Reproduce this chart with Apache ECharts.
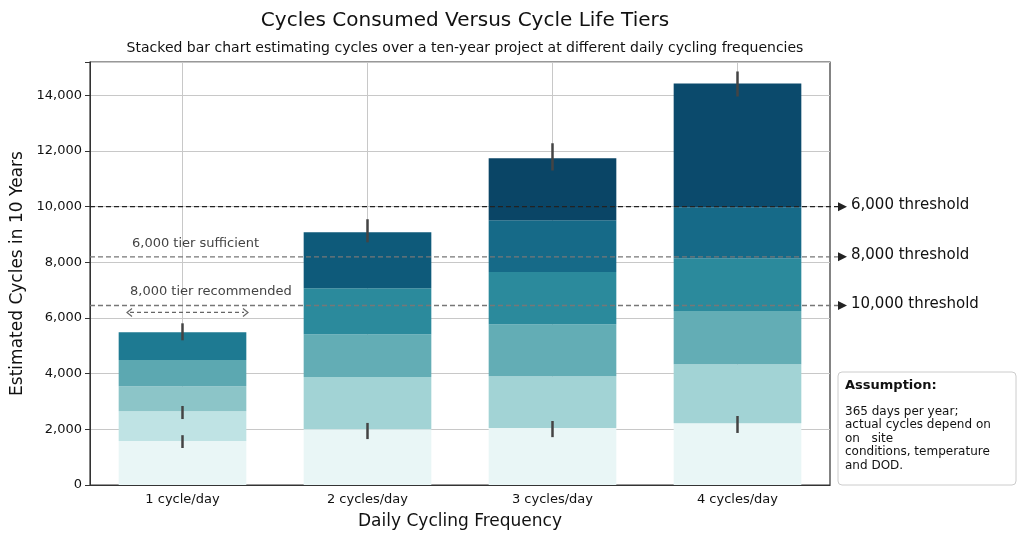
<!DOCTYPE html>
<html>
<head>
<meta charset="utf-8">
<script src="https://cdn.jsdelivr.net/npm/echarts@6/dist/echarts.min.js"></script>
<style>html,body{margin:0;padding:0;background:#fff}#chart{width:1024px;height:536px}</style>
</head>
<body>
<div id="chart"></div>
<script>
var categories = ['1 cycle/day', '2 cycles/day', '3 cycles/day', '4 cycles/day'];
// cumulative tops of each stacked segment, per category
var segTops = [
    [1580, 2650, 3550, 4490, 5490],
    [2000, 3880, 5420, 7070, 9080],
    [2050, 3910, 5780, 7650, 9510, 11740],
    [2220, 4340, 6250, 8150, 9980, 14430]
];
var segColors = [
    ['#e9f6f6', '#bfe3e4', '#8cc5c8', '#5ca8b1', '#1e7a92'],
    ['#e9f6f6', '#a2d3d5', '#63adb5', '#2b8a9c', '#0e5a7a'],
    ['#e9f6f6', '#a2d3d5', '#63adb5', '#2b8a9c', '#166a88', '#0a4566'],
    ['#e9f6f6', '#a2d3d5', '#63adb5', '#2b8a9c', '#166a88', '#0b4a6c']
];
var errCat = [0, 0, 0, 1, 1, 2, 2, 3, 3];
var errLow = [1330, 2370, 5200, 1650, 8720, 1720, 11300, 1870, 13960];
var errHigh = [1790, 2840, 5810, 2230, 9550, 2300, 12280, 2480, 14860];
var thresholdVals = [10000, 8200, 6450];
var thresholdLabels = ['6,000 threshold', '8,000 threshold', '10,000 threshold'];
var yTicks = [0, 2000, 4000, 6000, 8000, 10000, 12000, 14000];

var myChart = echarts.init(document.getElementById('chart'));
var font = 'DejaVu Sans';

var series = [];
for (var lvl = 0; lvl < 6; lvl++) {
    var data = [];
    for (var c = 0; c < categories.length; c++) {
        var tops = segTops[c];
        if (lvl < tops.length) {
            var v = tops[lvl] - (lvl > 0 ? tops[lvl - 1] : 0);
            data.push({value: v, itemStyle: {color: segColors[c][lvl]}});
        } else {
            data.push(0);
        }
    }
    var s = {
        type: 'bar', stack: 'total', barWidth: '69%', data: data,
        z: 3
    };
    if (lvl === 0) {
        s.markLine = {
            silent: true, symbol: 'none', z: 1,
            lineStyle: {color: '#c8c8c8', type: 'solid', width: 1},
            label: {show: false},
            data: categories.map(function (n) { return {xAxis: n}; })
        };
    }
    series.push(s);
}
series.push({
    type: 'custom', z: 10,
    data: errCat.map(function (c, i) { return [c, errLow[i], errHigh[i]]; }),
    renderItem: function (params, api) {
        var a = api.coord([api.value(0), api.value(1)]);
        var b = api.coord([api.value(0), api.value(2)]);
        return {type: 'line', shape: {x1: a[0], y1: a[1], x2: b[0], y2: b[1]},
            style: {stroke: '#444', lineWidth: 2.5}};
    }
});

var option = {
    animation: false,
    title: [{
        text: 'Cycles Consumed Versus Cycle Life Tiers', left: 460, top: 6, textAlign: 'center',
        textStyle: {fontFamily: font, fontSize: 20, fontWeight: 'normal', color: '#111'}
    }, {
        text: 'Stacked bar chart estimating cycles over a ten-year project at different daily cycling frequencies',
        left: 460, top: 36, textAlign: 'center',
        textStyle: {fontFamily: font, fontSize: 14, fontWeight: 'normal', color: '#111'}
    }],
    grid: {left: 90, right: 194, top: 62, bottom: 51, show: true, borderColor: '#333', borderWidth: 1.2},
    xAxis: {
        type: 'category', data: categories,
        name: 'Daily Cycling Frequency', nameLocation: 'middle', nameGap: 28,
        nameTextStyle: {fontFamily: font, fontSize: 17, color: '#111'},
        axisLabel: {fontFamily: font, fontSize: 13, color: '#111'},
        axisTick: {alignWithLabel: true, lineStyle: {color: '#333'}},
        axisLine: {lineStyle: {color: '#333'}},
        splitLine: {show: false}
    },
    yAxis: {
        type: 'value', min: 0, max: 15200, interval: 2000,
        name: 'Estimated Cycles in 10 Years', nameLocation: 'middle', nameGap: 64,
        nameTextStyle: {fontFamily: font, fontSize: 17, color: '#111'},
        axisLabel: {fontFamily: font, fontSize: 13, color: '#111',
            formatter: function (v) { return yTicks.indexOf(v) >= 0 ? v.toLocaleString('en-US') : ''; }},
        axisTick: {show: true, lineStyle: {color: '#333'}},
        axisLine: {show: true, lineStyle: {color: '#333'}},
        splitLine: {lineStyle: {color: '#c8c8c8'}}
    },
    series: series
};
myChart.setOption(option);

// threshold lines extended past the plot with arrows and labels
var g = [];
var x0 = myChart.convertToPixel({gridIndex: 0}, [0, 0]);
for (var i = 0; i < thresholdVals.length; i++) {
    var y = myChart.convertToPixel({yAxisIndex: 0}, thresholdVals[i]);
    var col = i === 0 ? '#222' : '#777';
    g.push({type: 'line', z: 20, shape: {x1: 90, y1: y, x2: 842, y2: y},
        style: {stroke: col, lineWidth: 1.3, lineDash: [5, 3]}});
    g.push({type: 'polygon', z: 20, shape: {points: [[838, y - 4.5], [847, y], [838, y + 4.5]]},
        style: {fill: '#222'}});
    g.push({type: 'text', z: 20, left: 851, top: y - 9,
        style: {text: thresholdLabels[i], font: '15px DejaVu Sans', fill: '#111'}});
}
var y6 = myChart.convertToPixel({yAxisIndex: 0}, 8200);
var y8 = myChart.convertToPixel({yAxisIndex: 0}, 6450);
g.push({type: 'text', z: 20, left: 132, top: y6 - 20,
    style: {text: '6,000 tier sufficient', font: '13px DejaVu Sans', fill: '#444'}});
g.push({type: 'text', z: 20, left: 130, top: y8 - 20,
    style: {text: '8,000 tier recommended', font: '13px DejaVu Sans', fill: '#444'}});
var ya = myChart.convertToPixel({yAxisIndex: 0}, 6200);
g.push({type: 'line', z: 20, shape: {x1: 130, y1: ya, x2: 244, y2: ya},
    style: {stroke: '#666', lineWidth: 1.2, lineDash: [4, 3]}});
g.push({type: 'polyline', z: 20, shape: {points: [[132, ya - 4], [127, ya], [132, ya + 4]]}, style: {stroke: '#666', lineWidth: 1.2}});
g.push({type: 'polyline', z: 20, shape: {points: [[243, ya - 4], [248, ya], [243, ya + 4]]}, style: {stroke: '#666', lineWidth: 1.2}});
// assumption box
g.push({type: 'rect', z: 20, shape: {x: 838, y: 372, width: 178, height: 113, r: 4},
    style: {fill: '#fff', stroke: '#ccc', lineWidth: 1}});
g.push({type: 'text', z: 21, left: 845, top: 379,
    style: {text: 'Assumption:', font: 'bold 13px DejaVu Sans', fill: '#111'}});
g.push({type: 'text', z: 21, left: 845, top: 405,
    style: {text: '365 days per year;\nactual cycles depend on\non   site\nconditions, temperature\nand DOD.',
        font: '12px DejaVu Sans', fill: '#111', lineHeight: 13.5}});
myChart.setOption({graphic: g});
</script>
</body>
</html>
